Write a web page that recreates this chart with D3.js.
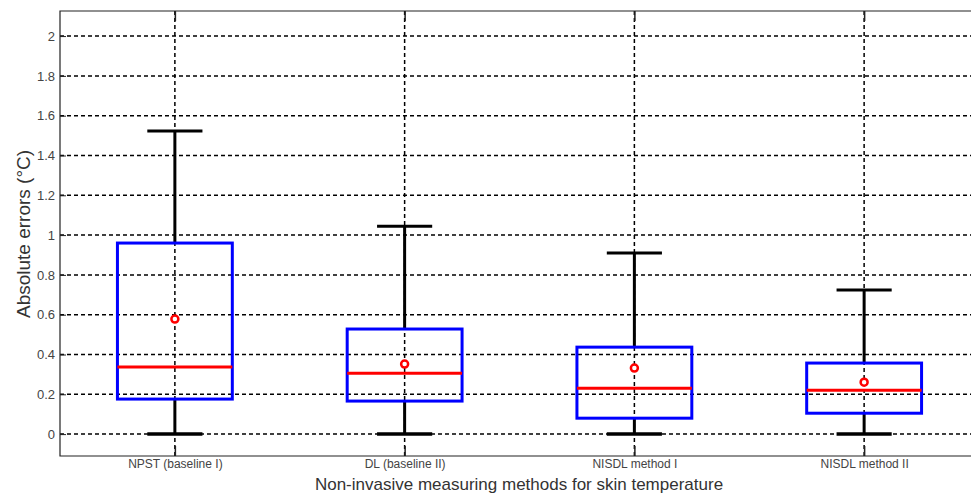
<!DOCTYPE html>
<html>
<head>
<meta charset="utf-8">
<script src="https://cdn.jsdelivr.net/npm/d3@7"></script>
<style>
  body { margin: 0; background: #fff; }
  svg { display: block; font-family: "Liberation Sans", Arial, sans-serif; }
</style>
</head>
<body>
<svg id="chart" width="971" height="493"></svg>
<script>
// data
let methods = ['NPST (baseline I)', 'DL (baseline II)', 'NISDL method I', 'NISDL method II'];
let whiskerLow = [0, 0, 0, 0];
let q1 = [0.176, 0.166, 0.08, 0.105];
let medians = [0.337, 0.306, 0.231, 0.221];
let q3 = [0.96, 0.528, 0.437, 0.357];
let whiskerHigh = [1.523, 1.045, 0.91, 0.724];
let means = [0.578, 0.352, 0.332, 0.261];
let yTicks = [0, 0.2, 0.4, 0.6, 0.8, 1, 1.2, 1.4, 1.6, 1.8, 2];

let boxes = methods.map((m, i) => ({
  name: m, pos: i + 1,
  lo: whiskerLow[i], q1: q1[i], med: medians[i], q3: q3[i], hi: whiskerHigh[i], mean: means[i]
}));

// plot area (right edge runs past the window, like the reference)
let plotLeft = 60, plotTop = 11, plotRight = 979, plotBottom = 456;

let svg = d3.select('svg#chart');

let xScale = d3.scaleLinear()
  .domain([0.5, 4.5])
  .range([plotLeft, plotRight]);

let yScale = d3.scaleLinear()
  .domain([-0.11, 2.126])
  .range([plotBottom, plotTop]);

// dashed grid
let grid = svg.append('g')
  .attr('stroke', '#000')
  .attr('stroke-width', 1.5)
  .attr('stroke-dasharray', '4,3');

grid.selectAll('line.h')
  .data(yTicks)
  .enter()
  .append('line')
  .attr('x1', plotLeft)
  .attr('x2', plotRight)
  .attr('y1', d => yScale(d))
  .attr('y2', d => yScale(d));

grid.selectAll('line.v')
  .data(boxes)
  .enter()
  .append('line')
  .attr('x1', d => xScale(d.pos))
  .attr('x2', d => xScale(d.pos))
  .attr('y1', plotTop)
  .attr('y2', plotBottom);

// frame
svg.append('path')
  .attr('d', `M${plotRight},${plotTop}H${plotLeft}V${plotBottom}H${plotRight}`)
  .attr('fill', 'none')
  .attr('stroke', '#222')
  .attr('stroke-width', 1.2);

// inward ticks, MATLAB style
let yAxis = svg.append('g')
  .attr('transform', `translate(${plotLeft},0)`)
  .call(d3.axisLeft(yScale).tickValues(yTicks).tickSize(-6).tickPadding(5).tickFormat(d => d));
yAxis.select('.domain').remove();
yAxis.selectAll('text')
  .attr('font-size', 13)
  .attr('fill', '#444');
yAxis.selectAll('line').attr('stroke', '#222');

let xAxis = svg.append('g')
  .attr('transform', `translate(0,${plotBottom})`)
  .call(d3.axisBottom(xScale).tickValues(boxes.map(d => d.pos)).tickSize(-10).tickPadding(3)
    .tickFormat((d, i) => methods[i]));
xAxis.select('.domain').remove();
xAxis.selectAll('text')
  .attr('font-size', 12)
  .attr('fill', '#444');
xAxis.selectAll('line').attr('stroke', '#222').attr('stroke-width', 1.5);

let xTop = svg.append('g')
  .attr('transform', `translate(0,${plotTop})`)
  .call(d3.axisTop(xScale).tickValues(boxes.map(d => d.pos)).tickSize(-10).tickFormat(''));
xTop.select('.domain').remove();
xTop.selectAll('line').attr('stroke', '#222').attr('stroke-width', 1.5);

// boxes
let boxW = 0.5, capW = 0.24;
let g = svg.selectAll('g.box')
  .data(boxes)
  .enter()
  .append('g')
  .attr('class', 'box');

// whiskers
g.append('line')
  .attr('x1', d => xScale(d.pos)).attr('x2', d => xScale(d.pos))
  .attr('y1', d => yScale(d.q3)).attr('y2', d => yScale(d.hi))
  .attr('stroke', '#000').attr('stroke-width', 3);
g.append('line')
  .attr('x1', d => xScale(d.pos)).attr('x2', d => xScale(d.pos))
  .attr('y1', d => yScale(d.q1)).attr('y2', d => yScale(d.lo))
  .attr('stroke', '#000').attr('stroke-width', 3);
g.append('line')
  .attr('x1', d => xScale(d.pos - capW / 2)).attr('x2', d => xScale(d.pos + capW / 2))
  .attr('y1', d => yScale(d.hi)).attr('y2', d => yScale(d.hi))
  .attr('stroke', '#000').attr('stroke-width', 3);
g.append('line')
  .attr('x1', d => xScale(d.pos - capW / 2)).attr('x2', d => xScale(d.pos + capW / 2))
  .attr('y1', d => yScale(d.lo)).attr('y2', d => yScale(d.lo))
  .attr('stroke', '#000').attr('stroke-width', 3.5);

g.append('rect')
  .attr('x', d => xScale(d.pos - boxW / 2))
  .attr('y', d => yScale(d.q3))
  .attr('width', d => xScale(d.pos + boxW / 2) - xScale(d.pos - boxW / 2))
  .attr('height', d => yScale(d.q1) - yScale(d.q3))
  .attr('fill', 'none')
  .attr('stroke', '#0000ff')
  .attr('stroke-width', 3);

g.append('line')
  .attr('x1', d => xScale(d.pos - boxW / 2)).attr('x2', d => xScale(d.pos + boxW / 2))
  .attr('y1', d => yScale(d.med)).attr('y2', d => yScale(d.med))
  .attr('stroke', '#ff0000').attr('stroke-width', 3);

// mean markers
g.append('circle')
  .attr('cx', d => xScale(d.pos))
  .attr('cy', d => yScale(d.mean))
  .attr('r', 3.5)
  .attr('fill', '#fff')
  .attr('stroke', '#ff0000')
  .attr('stroke-width', 2.5);

// axis labels
svg.append('text')
  .attr('x', 519)
  .attr('y', 490)
  .attr('text-anchor', 'middle')
  .attr('font-size', 17)
  .attr('fill', '#333')
  .text('Non-invasive measuring methods for skin temperature');

svg.append('text')
  .attr('transform', 'translate(30,234) rotate(-90)')
  .attr('text-anchor', 'middle')
  .attr('font-size', 19)
  .attr('fill', '#333')
  .text('Absolute errors (°C)');
</script>
</body>
</html>
